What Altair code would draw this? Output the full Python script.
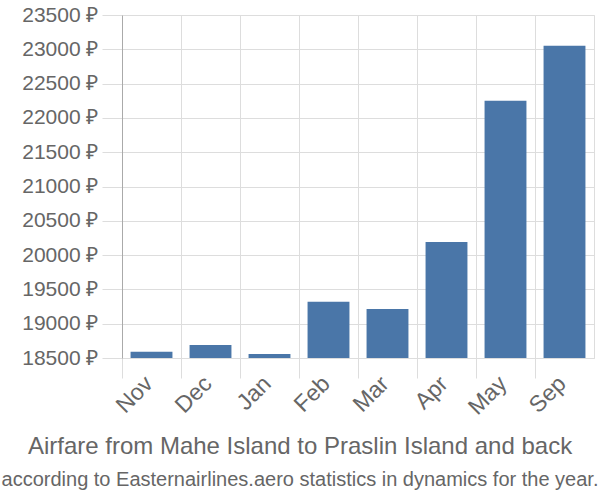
import altair as alt
import pandas as pd

months = ["Nov", "Dec", "Jan", "Feb", "Mar", "Apr", "May", "Sep"]
prices = [18590, 18690, 18560, 19320, 19215, 20190, 22250, 23050]
y_ticks = [18500, 19000, 19500, 20000, 20500, 21000, 21500, 22000, 22500, 23000, 23500]
y_min, y_max = 18500, 23500

df = pd.DataFrame({"month": months, "price": prices, "base": [y_min] * len(months)})

grid = "#dddddd"
txt = "#666666"

chart = alt.Chart(df).mark_bar(
    color="#4a76a8", width=alt.RelativeBandSize(0.71)
).encode(
    x=alt.X("month:N", sort=months, title=None,
            scale=alt.Scale(paddingInner=0, paddingOuter=0),
            axis=alt.Axis(bandPosition=0, labelOffset=-10, labelAngle=-45,
                          labelAlign="right", labelBaseline="top",
                          tickSize=20, tickColor=grid, gridColor=grid, grid=True,
                          domainColor=grid, labelFontSize=23, labelColor=txt,
                          labelFont="Liberation Sans", labelPadding=-6)),
    y=alt.Y("price:Q", title=None,
            scale=alt.Scale(domain=[y_min, y_max], zero=False, nice=False),
            axis=alt.Axis(values=y_ticks, labelExpr="datum.value + ' ₽'",
                          tickSize=20, tickColor=grid, gridColor=grid,
                          domainColor="#aaaaaa", labelFontSize=21, labelColor=txt,
                          labelFont="Liberation Sans", labelPadding=4)),
    y2="base:Q",
).properties(
    width=472, height=343,
    autosize=alt.AutoSizeParams(type="none"),
    padding={"left": 122, "top": 15, "right": 6, "bottom": 142},
    title=alt.TitleParams(
        text="Airfare from Mahe Island to Praslin Island and back",
        subtitle="according to Easternairlines.aero statistics in dynamics for the year.",
        orient="bottom", anchor="middle", font="Liberation Sans", fontSize=24,
        fontWeight="normal", color=txt, subtitleFont="Liberation Sans",
        subtitleFontSize=20, subtitleColor=txt, offset=16, subtitlePadding=11,
        dx=-58,
    ),
).configure_view(stroke=grid)

chart.save("out.html", embed_options={"renderer": "svg", "actions": False})
